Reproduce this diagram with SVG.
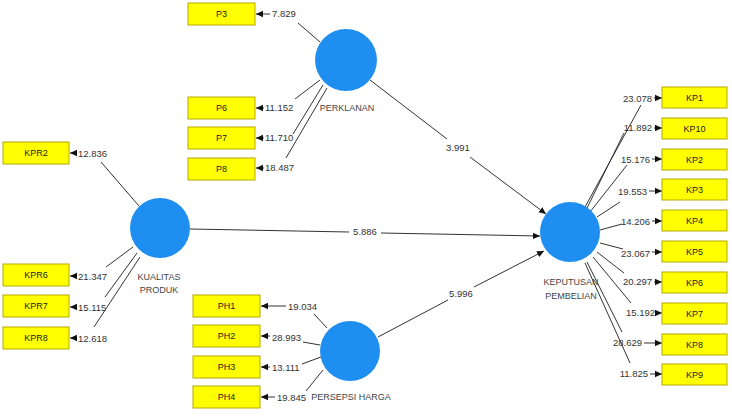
<svg xmlns="http://www.w3.org/2000/svg" width="732" height="417" viewBox="0 0 732 417">
<defs>
<marker id="ah" markerUnits="userSpaceOnUse" markerWidth="8" markerHeight="8" refX="7" refY="4" orient="auto">
<path d="M0,0.8 L7,4 L0,7.2 Z" fill="#111"/>
</marker>
<style>
.box{fill:#ffff00;stroke:#b5a800;stroke-width:1}
.bt{font-family:"Liberation Sans",Arial,sans-serif;font-size:9px;fill:#222;text-anchor:middle}
.lv{fill:#1e8ff0}
.lt{font-family:"Liberation Sans",Arial,sans-serif;font-size:9px;fill:#444;text-anchor:middle}
.ln{fill:none;stroke:#333;stroke-width:1}
.num{font-family:"Liberation Sans",Arial,sans-serif;font-size:9.5px;fill:#333}
.e{text-anchor:end}
.m{text-anchor:middle}
</style>
</defs>
<rect width="732" height="417" fill="#fff"/>

<g id="connectors">
<path class="ln" d="M320 42 L298 23 M270 14 L256 14" marker-end="url(#ah)"/>
<path class="ln" d="M320 80 L295 99 M264 108 L256 108" marker-end="url(#ah)"/>
<path class="ln" d="M323 85 L293 134 M264 138 L256 138" marker-end="url(#ah)"/>
<path class="ln" d="M327 88 L286 158 M264 168 L256 168" marker-end="url(#ah)"/>
<text class="num" x="272" y="17">7.829</text>
<text class="num" x="265" y="111">11.152</text>
<text class="num" x="265" y="141">11.710</text>
<text class="num" x="265" y="171">18.487</text>
<path class="ln" d="M139 206 L101 162 M77 153 L70 153" marker-end="url(#ah)"/>
<path class="ln" d="M133 247 L106 267 M77 276 L70 276" marker-end="url(#ah)"/>
<path class="ln" d="M137 253 L105 297 M77 307 L70 307" marker-end="url(#ah)"/>
<path class="ln" d="M140 257 L94 327 M77 338 L70 338" marker-end="url(#ah)"/>
<text class="num" x="78" y="157">12.836</text>
<text class="num" x="78" y="280">21.347</text>
<text class="num" x="78" y="311">15.115</text>
<text class="num" x="78" y="342">12.618</text>
<path class="ln" d="M327 328 L314 314 M286 306 L261 306" marker-end="url(#ah)"/>
<path class="ln" d="M320 345 L303 342 M270 336 L261 336" marker-end="url(#ah)"/>
<path class="ln" d="M321 357 L302 364 M270 367 L261 367" marker-end="url(#ah)"/>
<path class="ln" d="M323 370 L306 391 M275 397 L261 397" marker-end="url(#ah)"/>
<text class="num" x="288" y="310">19.034</text>
<text class="num" x="272" y="341">28.993</text>
<text class="num" x="272" y="371">13.111</text>
<text class="num" x="277" y="401">19.845</text>
<path class="ln" d="M585 207 L641 105 M654 98 L662 98" marker-end="url(#ah)"/>
<path class="ln" d="M587 208 L624 133 M654 128 L662 128" marker-end="url(#ah)"/>
<path class="ln" d="M590 212 L627 165 M652 159 L662 159" marker-end="url(#ah)"/>
<path class="ln" d="M597 217 L620 202 M649 191 L662 191" marker-end="url(#ah)"/>
<path class="ln" d="M600 230 L622 224 M652 221 L662 221" marker-end="url(#ah)"/>
<path class="ln" d="M600 243 L623 249 M652 252 L662 252" marker-end="url(#ah)"/>
<path class="ln" d="M597 252 L624 273 M654 282 L662 282" marker-end="url(#ah)"/>
<path class="ln" d="M593 257 L631 303 M657 313 L662 313" marker-end="url(#ah)"/>
<path class="ln" d="M587 262 L622 332 M644 343 L662 343" marker-end="url(#ah)"/>
<path class="ln" d="M585 263 L630 363 M650 374 L662 374" marker-end="url(#ah)"/>
<text class="num e" x="652" y="102">23.078</text>
<text class="num e" x="652" y="131">11.892</text>
<text class="num e" x="650" y="163">15.176</text>
<text class="num e" x="647" y="195">19.553</text>
<text class="num e" x="650" y="225">14.206</text>
<text class="num e" x="650" y="257">23.067</text>
<text class="num e" x="652" y="285">20.297</text>
<text class="num e" x="655" y="316">15.192</text>
<text class="num e" x="642" y="346">28.629</text>
<text class="num e" x="648" y="377">11.825</text>
<path class="ln" d="M370 80 L447 139 M470 157 L546 214" marker-end="url(#ah)"/>
<text class="num m" x="458" y="151">3.991</text>
<path class="ln" d="M190 229 L349 232 M381 233 L540 236" marker-end="url(#ah)"/>
<text class="num m" x="365" y="235">5.886</text>
<path class="ln" d="M378 337 L448 300 M474 287 L544 251" marker-end="url(#ah)"/>
<text class="num m" x="461" y="297">5.996</text>
</g>

<g id="PERKLANAN">
<circle class="lv" cx="346" cy="60" r="31"/>
<text class="lt" x="347" y="111">PERKLANAN</text>
</g>
<g id="KUALITAS_PRODUK">
<circle class="lv" cx="160" cy="228" r="30"/>
<text class="lt" x="159" y="280">KUALITAS</text>
<text class="lt" x="159" y="293">PRODUK</text>
</g>
<g id="PERSEPSI_HARGA">
<circle class="lv" cx="350" cy="351" r="30"/>
<text class="lt" x="351" y="400">PERSEPSI HARGA</text>
</g>
<g id="KEPUTUSAN_PEMBELIAN">
<circle class="lv" cx="570" cy="232" r="30"/>
<text class="lt" x="571" y="285">KEPUTUSAN</text>
<text class="lt" x="571" y="299">PEMBELIAN</text>
</g>

<g id="P3"><rect class="box" x="188" y="3" width="67" height="22"/><text class="bt" x="221.5" y="17">P3</text></g>
<g id="P6"><rect class="box" x="188" y="97" width="67" height="22"/><text class="bt" x="221.5" y="111">P6</text></g>
<g id="P7"><rect class="box" x="188" y="127" width="67" height="22"/><text class="bt" x="221.5" y="141">P7</text></g>
<g id="P8"><rect class="box" x="188" y="158" width="67" height="22"/><text class="bt" x="221.5" y="172">P8</text></g>

<g id="KPR2"><rect class="box" x="3" y="142" width="66" height="22"/><text class="bt" x="36" y="156">KPR2</text></g>
<g id="KPR6"><rect class="box" x="3" y="264" width="66" height="22"/><text class="bt" x="36" y="278">KPR6</text></g>
<g id="KPR7"><rect class="box" x="3" y="295" width="66" height="22"/><text class="bt" x="36" y="309">KPR7</text></g>
<g id="KPR8"><rect class="box" x="3" y="327" width="66" height="22"/><text class="bt" x="36" y="341">KPR8</text></g>

<g id="PH1"><rect class="box" x="193" y="295" width="67" height="22"/><text class="bt" x="226.5" y="309">PH1</text></g>
<g id="PH2"><rect class="box" x="193" y="325" width="67" height="22"/><text class="bt" x="226.5" y="339">PH2</text></g>
<g id="PH3"><rect class="box" x="193" y="356" width="67" height="22"/><text class="bt" x="226.5" y="370">PH3</text></g>
<g id="PH4"><rect class="box" x="193" y="386" width="67" height="22"/><text class="bt" x="226.5" y="400">PH4</text></g>

<g id="KP1"><rect class="box" x="662" y="87" width="65" height="21"/><text class="bt" x="694.5" y="101">KP1</text></g>
<g id="KP10"><rect class="box" x="662" y="118" width="65" height="21"/><text class="bt" x="694.5" y="132">KP10</text></g>
<g id="KP2"><rect class="box" x="662" y="149" width="65" height="21"/><text class="bt" x="694.5" y="163">KP2</text></g>
<g id="KP3"><rect class="box" x="662" y="179" width="65" height="21"/><text class="bt" x="694.5" y="193">KP3</text></g>
<g id="KP4"><rect class="box" x="662" y="210" width="65" height="21"/><text class="bt" x="694.5" y="224">KP4</text></g>
<g id="KP5"><rect class="box" x="662" y="241" width="65" height="21"/><text class="bt" x="694.5" y="255">KP5</text></g>
<g id="KP6"><rect class="box" x="662" y="272" width="65" height="21"/><text class="bt" x="694.5" y="286">KP6</text></g>
<g id="KP7"><rect class="box" x="662" y="303" width="65" height="21"/><text class="bt" x="694.5" y="317">KP7</text></g>
<g id="KP8"><rect class="box" x="662" y="334" width="65" height="21"/><text class="bt" x="694.5" y="348">KP8</text></g>
<g id="KP9"><rect class="box" x="662" y="364" width="65" height="21"/><text class="bt" x="694.5" y="378">KP9</text></g>
</svg>
